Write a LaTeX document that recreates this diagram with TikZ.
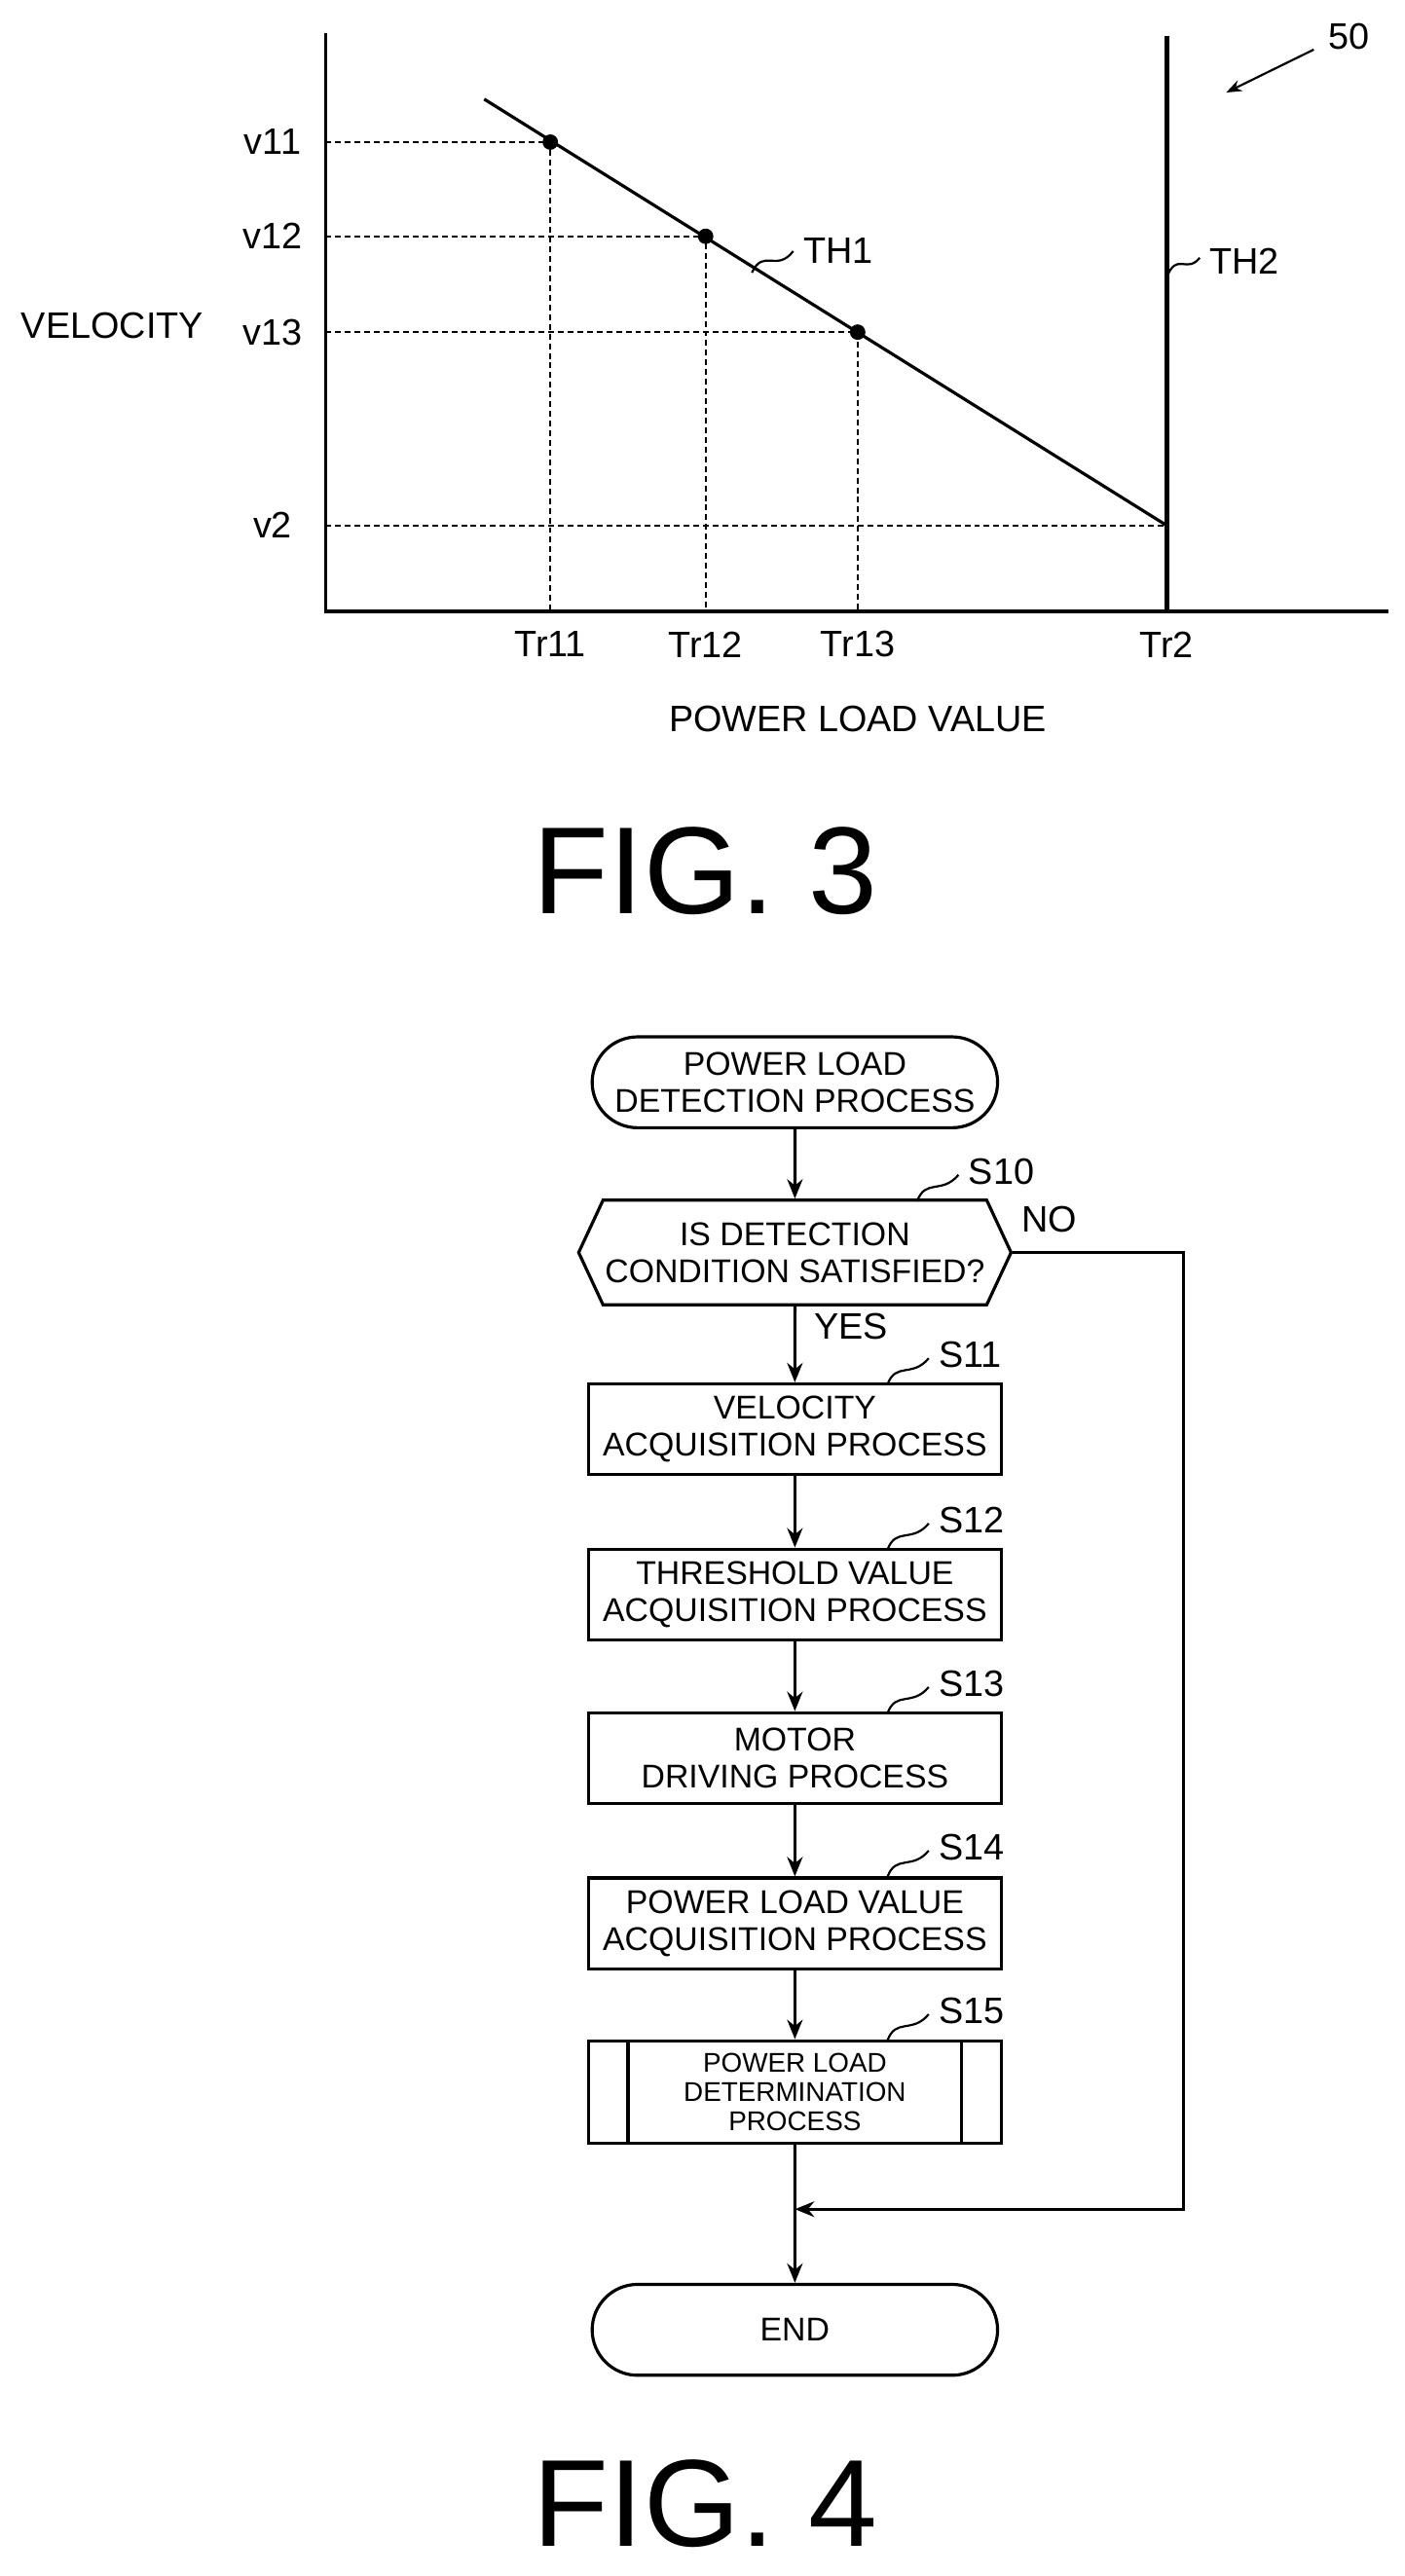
\documentclass[tikz,border=0pt]{standalone}
\usepackage{fontspec}
\setmainfont{Liberation Sans}
\usetikzlibrary{shapes.geometric,shapes.misc,shapes.symbols,arrows.meta}
\tikzset{
  lbl/.style={font=\fontsize{19}{22}\selectfont},
  ftxt/.style={font=\fontsize{17}{19}\selectfont,align=center},
  box/.style={draw,line width=1.6pt,minimum width=7.5cm,minimum height=1.65cm,inner sep=2pt,ftxt},
  term/.style={box,rounded rectangle},
  flow/.style={line width=1.6pt,-{Stealth[length=10pt,width=8pt]}},
  guide/.style={densely dashed,line width=0.9pt},
  lead/.style={line width=1.1pt}
}
\begin{document}
\begin{tikzpicture}[x=0.03cm,y=-0.03cm]
\useasboundingbox (0,0) rectangle (850,1559);
% graph
\coordinate (o) at (197,370);
\draw[line width=1.6pt] (197,20) -- (o) -- (840,370);
\coordinate (t0) at (293,60);
\coordinate (t4) at (706,318);
\draw[line width=1.6pt] (t0) -- (t4);
\draw[line width=2.4pt] (706,22) -- (706,370);
\foreach \x/\y/\v/\t in {333/86/v11/Tr11,427/143/v12/Tr12,519/201/v13/Tr13}{
  \fill (\x,\y) circle (4pt);
  \draw[guide] (197,\y) -- (\x,\y) -- (\x,370);
  \node[lbl] at (165,\y) {\v};
  \node[lbl] at (\x,390) {\t};
}
\draw[guide] (197,318) -- (t4);
\node[lbl] at (165,318) {v2};
\node[lbl] at (706,390) {Tr2};
\node[lbl] at (68,197) {VELOCITY};
\node[lbl] at (519,435) {POWER LOAD VALUE};
\draw[lead] (455,165) .. controls (462,150) and (470,165) .. (480,152);
\node[lbl,anchor=west] at (482,152) {TH1};
\draw[lead] (706,168) .. controls (712,152) and (718,166) .. (726,156);
\node[lbl,anchor=west] at (728,158) {TH2};
\node[lbl,anchor=west] at (800,22) {50};
\draw[lead,-{Stealth[length=8pt]}] (795,30) -- (742,56);
\node[font=\fontsize{64}{68}\selectfont] at (427,527) {FIG. 3};
% flowchart
\node[term] (start) at (481,655) {POWER LOAD\\DETECTION PROCESS};
\node[draw,line width=1.6pt,ftxt,signal,signal to=east and west,signal pointer angle=130,
  minimum width=7.56cm,minimum height=1.9cm,inner sep=1pt] (s10) at (481,758) {IS DETECTION\\CONDITION SATISFIED?};
\node[box] (s11) at (481,865) {VELOCITY\\ACQUISITION PROCESS};
\node[box] (s12) at (481,965) {THRESHOLD VALUE\\ACQUISITION PROCESS};
\node[box] (s13) at (481,1064) {MOTOR\\DRIVING PROCESS};
\node[box] (s14) at (481,1164) {POWER LOAD VALUE\\ACQUISITION PROCESS};
\node[box,minimum height=1.86cm,font=\fontsize{14}{15}\selectfont] (s15) at (481,1266) {POWER LOAD\\DETERMINATION\\PROCESS};
\draw[line width=1.6pt] ([xshift=0.75cm]s15.north west) -- ([xshift=0.75cm]s15.south west)
  ([xshift=-0.75cm]s15.north east) -- ([xshift=-0.75cm]s15.south east);
\node[term] (end) at (481,1410) {END};
\coordinate (join) at (481,1337);
\coordinate (nr) at (716,758);
\draw[flow] (start) -- (s10);
\draw[flow] (s10) -- (s11);
\draw[flow] (s11) -- (s12);
\draw[flow] (s12) -- (s13);
\draw[flow] (s13) -- (s14);
\draw[flow] (s14) -- (s15);
\draw[flow] (s15) -- (end);
\draw[flow] (s10.east) -- (nr) |- (join);
\node[lbl] at (515,803) {YES};
\node[lbl] at (635,738) {NO};
\foreach \n/\x/\y in {S10/555/727,S11/537/838,S12/537/938,S13/537/1037,S14/537/1136,S15/537/1235}{
  \draw[lead] (\x,\y) .. controls (\x+5,\y-14) and (\x+15,\y-4) .. (\x+25,\y-16);
  \node[lbl,anchor=west] at (\x+27,\y-18) {\n};
}
\node[font=\fontsize{64}{68}\selectfont] at (427,1515) {FIG. 4};
\end{tikzpicture}
\end{document}
